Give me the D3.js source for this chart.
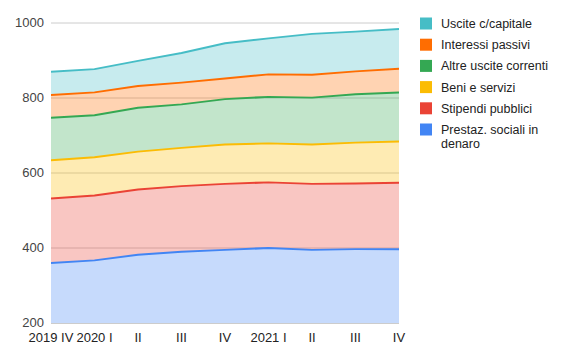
<!DOCTYPE html>
<html><head><meta charset="utf-8">
<script src="https://cdn.jsdelivr.net/npm/d3@7"></script>
<style>body{margin:0;background:#fff}svg{display:block}text{font-family:"Liberation Sans",Arial,sans-serif}</style>
</head><body><svg id="c" width="580" height="359"></svg>
<script>
const quarters = ["2019 IV","2020 I","II","III","IV","2021 I","II","III","IV"];
const prestazSociali = [360,367,382,390,395,400,395,397,397];
const stipendiPubblici = [172,173,174,175,176,175,176,175,177];
const beniServizi = [102,102,101,102,105,104,105,109,110];
const altreUscite = [113,112,117,116,121,124,125,129,131];
const interessiPassivi = [61,61,58,58,55,60,61,61,63];
const usciteCapitale = [62,62,67,79,94,96,109,106,106];
const yTicks = [200,400,600,800,1000];

const seriesNames = ["Prestaz. sociali in denaro","Stipendi pubblici","Beni e servizi","Altre uscite correnti","Interessi passivi","Uscite c/capitale"];
const seriesVals = [prestazSociali,stipendiPubblici,beniServizi,altreUscite,interessiPassivi,usciteCapitale];
const colors = ["#4285f4","#ea4335","#fbbc04","#34a853","#ff6d01","#46bdc6"];

const svg = d3.select("#c");
const L=51,R=399,T=23,B=323;
const x = d3.scalePoint().domain(d3.range(quarters.length)).range([L,R]);
const y = d3.scaleLinear().domain([200,1000]).range([B,T]);

const rows = quarters.map((q,i)=>{const o={i};seriesNames.forEach((n,k)=>o[n]=seriesVals[k][i]);return o;});
const stack = d3.stack().keys(seriesNames)(rows);

// grid
svg.append("g").selectAll("line").data(yTicks.filter(t=>t>200)).join("line")
  .attr("x1",L).attr("x2",R).attr("y1",d=>y(d)).attr("y2",d=>y(d))
  .attr("stroke","#cccccc").attr("stroke-width",1);

svg.append("defs").append("clipPath").attr("id","pc").append("rect")
  .attr("x",L).attr("y",T-5).attr("width",R-L).attr("height",B-T+5);

const g = svg.append("g").attr("clip-path","url(#pc)");
const area = d3.area().x(d=>x(d.data.i)).y0(d=>y(Math.max(d[0],0))).y1(d=>y(d[1]));
const line = d3.line().x(d=>x(d.data.i)).y(d=>y(d[1]));
stack.forEach((s,k)=>{
  g.append("path").datum(s).attr("d",area).attr("fill",colors[k]).attr("fill-opacity",0.3);
});
stack.forEach((s,k)=>{
  g.append("path").datum(s).attr("d",line).attr("fill","none").attr("stroke",colors[k]).attr("stroke-width",2).attr("stroke-linejoin","round");
});

// baseline
svg.append("line").attr("x1",L).attr("x2",R).attr("y1",B+0.5).attr("y2",B+0.5).attr("stroke","#cccccc");

// y labels
svg.append("g").selectAll("text").data(yTicks).join("text")
  .attr("x",44).attr("y",d=>y(d)+4).attr("text-anchor","end")
  .attr("font-size",13).attr("fill","#444").text(d=>d);

// x labels
svg.append("g").selectAll("text").data(quarters).join("text")
  .attr("x",(d,i)=>x(i)).attr("y",342).attr("text-anchor","middle")
  .attr("font-size",13).attr("fill","#222").text(d=>d);

// legend
const legOrder = [5,4,3,2,1,0];
const lg = svg.append("g");
legOrder.forEach((k,j)=>{
  const cy = 23.5 + j*21.2;
  lg.append("rect").attr("x",420).attr("y",cy-6).attr("width",12).attr("height",12).attr("fill",colors[k]);
  const t = lg.append("text").attr("x",441).attr("y",cy+4.5).attr("font-size",12.5).attr("fill","#222");
  if(k===0){
    t.append("tspan").attr("x",441).text("Prestaz. sociali in");
    t.append("tspan").attr("x",441).attr("dy",13.5).text("denaro");
  } else t.text(seriesNames[k]);
});
</script></body></html>
